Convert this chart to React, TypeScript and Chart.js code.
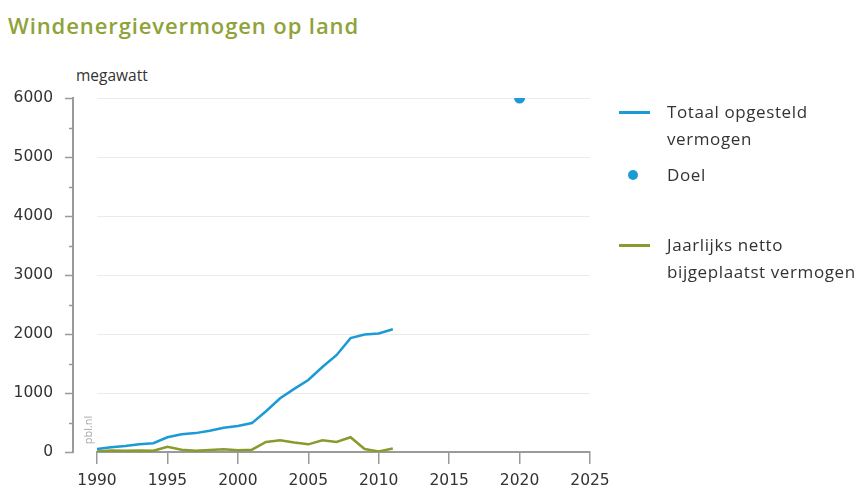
import React, { useEffect, useRef } from "react";
import { Chart, registerables } from "chart.js";

Chart.register(...registerables);

const years = [1990, 1991, 1992, 1993, 1994, 1995, 1996, 1997, 1998, 1999, 2000, 2001, 2002, 2003, 2004, 2005, 2006, 2007, 2008, 2009, 2010, 2011];
const totalCapacity = [50, 80, 100, 130, 150, 250, 300, 320, 360, 410, 440, 490, 690, 910, 1070, 1220, 1440, 1640, 1930, 1990, 2010, 2080];
const annualAdded = [10, 25, 20, 25, 20, 90, 40, 20, 35, 45, 30, 40, 170, 200, 160, 130, 200, 170, 250, 50, 10, 60];
const goalYear = [2020];
const goalValue = [6000];
const yTicks = [0, 1000, 2000, 3000, 4000, 5000, 6000];
const xTicks = [1990, 1995, 2000, 2005, 2010, 2015, 2020, 2025];

const BLUE = "#1c9ad6";
const OLIVE = "#8a9a2c";
const AXIS = "#9a9a9a";
const FONT = "'Open Sans', 'Noto Sans', sans-serif";
const TICKFONT = "'DejaVu Sans', sans-serif";
const AREA = { left: 97, top: 98, right: 590, bottom: 452 };

const yAxisPlugin = {
  id: "offsetYAxis",
  afterDraw(chart: any) {
    const ctx = chart.ctx;
    const y = chart.scales.y;
    const x0 = 73;
    ctx.save();
    ctx.strokeStyle = AXIS;
    ctx.lineWidth = 2;
    ctx.beginPath();
    ctx.moveTo(x0, y.getPixelForValue(0) + 1);
    ctx.lineTo(x0, y.getPixelForValue(6000) - 1);
    ctx.stroke();
    ctx.lineWidth = 1.5;
    for (let v = 0; v <= 6000; v += 500) {
      const py = Math.round(y.getPixelForValue(v)) + 0.5;
      const len = v % 1000 === 0 ? 8 : 4;
      ctx.beginPath();
      ctx.moveTo(x0 - len, py);
      ctx.lineTo(x0, py);
      ctx.stroke();
    }
    // watermark
    ctx.translate(89, y.getPixelForValue(0) - 22);
    ctx.rotate(-Math.PI / 2);
    ctx.fillStyle = "#a8a8a8";
    ctx.font = `11px ${FONT}`;
    ctx.textAlign = "center";
    ctx.textBaseline = "middle";
    ctx.fillText("pbl.nl", 0, 0);
    ctx.restore();
  },
};

export default function App() {
  const ref = useRef<HTMLCanvasElement | null>(null);

  useEffect(() => {
    if (!ref.current) return;
    const chart: any = new Chart(ref.current, {
      type: "line",
      data: {
        datasets: [
          {
            label: "Totaal opgesteld vermogen",
            data: years.map((yr, i) => ({ x: yr, y: totalCapacity[i] })),
            borderColor: BLUE,
            backgroundColor: BLUE,
            borderWidth: 2.5,
            pointRadius: 0,
            tension: 0,
          },
          {
            label: "Doel",
            data: goalYear.map((yr, i) => ({ x: yr, y: goalValue[i] })),
            showLine: false,
            borderColor: BLUE,
            backgroundColor: BLUE,
            pointRadius: 5.5,
            pointBorderWidth: 0,
          },
          {
            label: "Jaarlijks netto bijgeplaatst vermogen",
            data: years.map((yr, i) => ({ x: yr, y: annualAdded[i] })),
            borderColor: OLIVE,
            backgroundColor: OLIVE,
            borderWidth: 2.5,
            pointRadius: 0,
            tension: 0,
          },
        ],
      },
      options: {
        animation: false,
        responsive: false,
        maintainAspectRatio: false,
        layout: { padding: { left: 0, top: 98, right: 272, bottom: 0 } },
        plugins: { legend: { display: false }, title: { display: false }, tooltip: { enabled: false } },
        scales: {
          x: {
            type: "linear",
            min: 1990,
            max: 2025,
            afterFit: (s: any) => { s.height = 44; s.paddingLeft = 0; s.paddingRight = 0; },
            afterBuildTicks: (s: any) => { s.ticks = xTicks.map((v) => ({ value: v })); },
            ticks: {
              callback: (v: any) => String(v),
              color: "#333",
              font: { family: TICKFONT, size: 15.5 },
              padding: 8,
              maxRotation: 0,
            },
            grid: { drawOnChartArea: false, drawTicks: true, tickLength: 12, color: AXIS, lineWidth: 1.5 },
            border: { display: true, color: AXIS, width: 2 },
          },
          y: {
            min: 0,
            max: 6000,
            afterFit: (s: any) => { s.width = 97; s.paddingTop = 0; s.paddingBottom = 0; },
            afterBuildTicks: (s: any) => { s.ticks = yTicks.map((v) => ({ value: v })); },
            ticks: {
              callback: (v: any) => String(v),
              color: "#333",
              font: { family: TICKFONT, size: 15.5 },
              padding: 44,
            },
            grid: { drawTicks: false, color: "#ebebeb", lineWidth: 1 },
            border: { display: false },
          },
        },
      },
      plugins: [yAxisPlugin],
    });
    for (let k = 0; k < 3; k++) {
      const a = chart.chartArea;
      const p = chart.options.layout.padding;
      const dTop = AREA.top - a.top;
      const dBottom = a.bottom - AREA.bottom;
      const dRight = a.right - AREA.right;
      if (Math.abs(dTop) < 0.5 && Math.abs(dBottom) < 0.5 && Math.abs(dRight) < 0.5) break;
      p.top += dTop;
      p.bottom += dBottom;
      p.right += dRight;
      chart.update();
    }
    return () => chart.destroy();
  }, []);

  const legendText: React.CSSProperties = {
    position: "absolute",
    left: 667,
    fontFamily: FONT,
    fontSize: 17,
    letterSpacing: 0.6,
    lineHeight: "27px",
    color: "#333",
    whiteSpace: "nowrap",
  };

  return (
    <div style={{ position: "absolute", left: 0, top: 0, width: 862, height: 496, background: "#fff", overflow: "hidden" }}>
      <div style={{ position: "absolute", left: 8, top: 10, fontFamily: FONT, fontSize: 22, letterSpacing: 0.9, fontWeight: 600, color: "#8fa33a", whiteSpace: "nowrap" }}>
        Windenergievermogen op land
      </div>
      <div style={{ position: "absolute", left: 76, top: 64, fontFamily: FONT, fontSize: 15.5, color: "#333" }}>megawatt</div>
      <canvas ref={ref} width={862} height={496} style={{ position: "absolute", left: 0, top: 0, width: 862, height: 496 }} />
      <div style={{ position: "absolute", left: 619, top: 111, width: 31, height: 3, background: BLUE }} />
      <div style={{ ...legendText, top: 98 }}>Totaal opgesteld<br />vermogen</div>
      <div style={{ position: "absolute", left: 628, top: 170, width: 10, height: 10, borderRadius: 5, background: BLUE }} />
      <div style={{ ...legendText, top: 161 }}>Doel</div>
      <div style={{ position: "absolute", left: 619, top: 244, width: 31, height: 3, background: OLIVE }} />
      <div style={{ ...legendText, top: 231 }}>Jaarlijks netto<br />bijgeplaatst vermogen</div>
    </div>
  );
}
